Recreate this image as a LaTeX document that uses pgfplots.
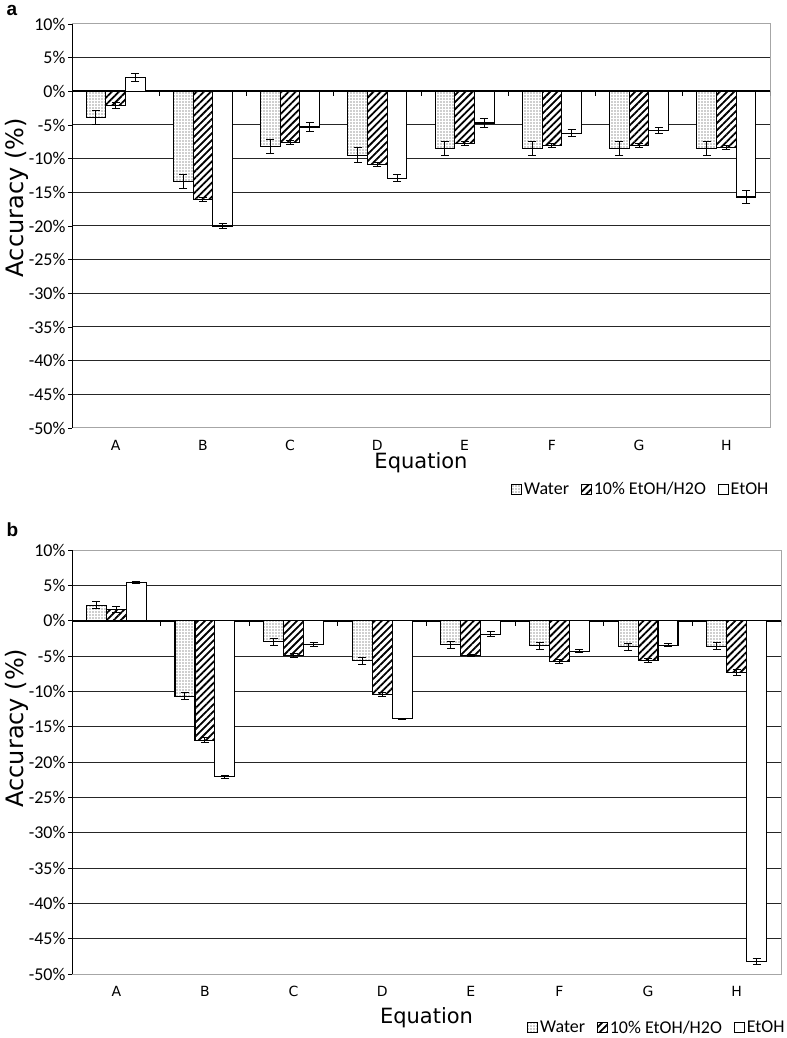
\documentclass[border=0pt]{standalone}
\usepackage{pgfplots}
\usepackage{pgfplotstable}
\pgfplotsset{compat=1.18}
\usetikzlibrary{patterns.meta}
\usepackage{fontspec}
\setmainfont{Carlito}
\newfontfamily\dejavu{DejaVu Sans}
\newfontfamily\libsans{Liberation Sans}

\pgfplotstableread{
x w we e ee t te
0 -3.9 1.1 -2.1 0.4 2.1 0.6
1 -13.4 1.1 -16.1 0.3 -20.0 0.4
2 -8.2 1.1 -7.6 0.3 -5.3 0.6
3 -9.5 1.1 -10.9 0.3 -12.9 0.5
4 -8.5 1.1 -7.7 0.3 -4.7 0.6
5 -8.5 1.1 -8.1 0.3 -6.2 0.5
6 -8.5 1.1 -8.1 0.3 -5.8 0.5
7 -8.5 1.1 -8.3 0.3 -15.7 1.0
}\dataA

\pgfplotstableread{
x w we e ee t te
0 2.2 0.5 1.6 0.4 5.4 0.15
1 -10.7 0.5 -16.9 0.3 -22.1 0.2
2 -3.0 0.5 -4.9 0.3 -3.4 0.25
3 -5.7 0.5 -10.4 0.3 -13.9 0.1
4 -3.4 0.5 -4.95 0.15 -1.9 0.3
5 -3.55 0.5 -5.8 0.3 -4.35 0.2
6 -3.7 0.5 -5.6 0.3 -3.5 0.2
7 -3.6 0.5 -7.3 0.4 -48.2 0.4
}\dataB

\pgfplotsset{
  accstyle/.style={
    scale only axis,
    anchor=south west,
    ybar,
    bar width=0.225,
    xmin=-0.5, xmax=7.5,
    ymin=-50, ymax=10,
    xtick={0,...,7},
    xticklabels={A,B,C,D,E,F,G,H},
    xtick style={draw=none},
    xticklabel style={font=\dejavu\fontsize{14bp}{16bp}\selectfont, yshift=-5bp},
    ytick={-50,-45,...,10},
    yticklabels={-50\%,-45\%,-40\%,-35\%,-30\%,-25\%,-20\%,-15\%,-10\%,-5\%,0\%,5\%,10\%},
    yticklabel style={font=\fontsize{18bp}{20bp}\selectfont, xshift=1bp},
    ytick pos=left,
    tick align=outside,
    ytick style={black, line width=0.8bp},
    major tick length=4bp,
    ymajorgrids,
    grid style={black!85, line width=1bp},
    extra y ticks={0},
    extra y tick labels={},
    extra y tick style={grid style={black, line width=2bp}, ytick style={draw=none}},
    axis line style={gray!70, line width=1bp},
    xlabel={Equation},
    ylabel={Accuracy (\%)},
    xlabel style={font=\dejavu\fontsize{21bp}{24bp}\selectfont, anchor=center},
    ylabel style={font=\dejavu\fontsize{24bp}{28bp}\selectfont, anchor=center},
    legend columns=3,
    legend style={draw=none, fill=none, font=\fontsize{18bp}{20bp}\selectfont, anchor=center,
      /tikz/every even column/.append style={column sep=10bp}},
    legend image code/.code={\draw[#1, line width=0.8bp] (0bp,-5bp) rectangle (10bp,5bp);},
    error bars/y dir=both,
    error bars/y explicit,
    error bars/error bar style={black, line width=1bp},
    error bars/error mark=-,
    error bars/error mark options={black, line width=1bp, mark size=4bp, rotate=90},
  },
  wstyle/.style={draw=black, line width=1.1bp, fill=white, postaction={pattern={Dots[radius=0.6bp, distance=3bp]}, pattern color=black!80}, bar shift=-0.225},
  estyle/.style={draw=black, line width=1.1bp, fill=white, postaction={pattern={Lines[angle=45, distance=5bp, line width=1.8bp]}, pattern color=black}, bar shift=0},
  tstyle/.style={draw=black, line width=1.1bp, fill=white, bar shift=0.225},
}

\begin{document}
\begin{tikzpicture}[x=1bp,y=1bp]
\useasboundingbox (0bp,0bp) rectangle (787bp,1038bp);
\node[anchor=west, font=\libsans\bfseries\fontsize{19bp}{22bp}\selectfont] at (3bp,1028bp) {a};
\node[anchor=west, font=\libsans\bfseries\fontsize{19bp}{22bp}\selectfont] at (3bp,508bp) {b};

% Panel a
\begin{axis}[accstyle, at={(72bp,610bp)}, width=698bp, height=404bp,
  xlabel style={at={(axis description cs:0.5,-0.087)}},
  ylabel style={at={(axis description cs:-0.079,0.57)}},
  legend style={at={(0.815,-0.152)}}]
\addplot[wstyle] table[x=x, y=w, y error=we] {\dataA};
\addplot[estyle] table[x=x, y=e, y error=ee] {\dataA};
\addplot[tstyle] table[x=x, y=t, y error=te] {\dataA};
\legend{Water, 10\% EtOH/H2O, EtOH}
\draw[black, line width=1.2bp] (rel axis cs:0,0) -- (rel axis cs:0,1);
\pgfplotsinvokeforeach{-0.5,0.5,1.5,2.5,3.5,4.5,5.5,6.5,7.5}{
  \draw[black, line width=0.8bp] (axis cs:#1,0) -- ([yshift=-5bp]axis cs:#1,0);
}
\end{axis}

% Panel b
\begin{axis}[accstyle, at={(72bp,64bp)}, width=709bp, height=424bp,
  xlabel style={at={(axis description cs:0.5,-0.104)}},
  ylabel style={at={(axis description cs:-0.0776,0.58)}},
  legend style={at={(0.825,-0.127)}}]
\addplot[wstyle] table[x=x, y=w, y error=we] {\dataB};
\addplot[estyle] table[x=x, y=e, y error=ee] {\dataB};
\addplot[tstyle] table[x=x, y=t, y error=te] {\dataB};
\legend{Water, 10\% EtOH/H2O, EtOH}
\draw[black, line width=1.2bp] (rel axis cs:0,0) -- (rel axis cs:0,1);
\pgfplotsinvokeforeach{-0.5,0.5,1.5,2.5,3.5,4.5,5.5,6.5,7.5}{
  \draw[black, line width=0.8bp] (axis cs:#1,0) -- ([yshift=-5bp]axis cs:#1,0);
}
\end{axis}
\end{tikzpicture}
\end{document}
